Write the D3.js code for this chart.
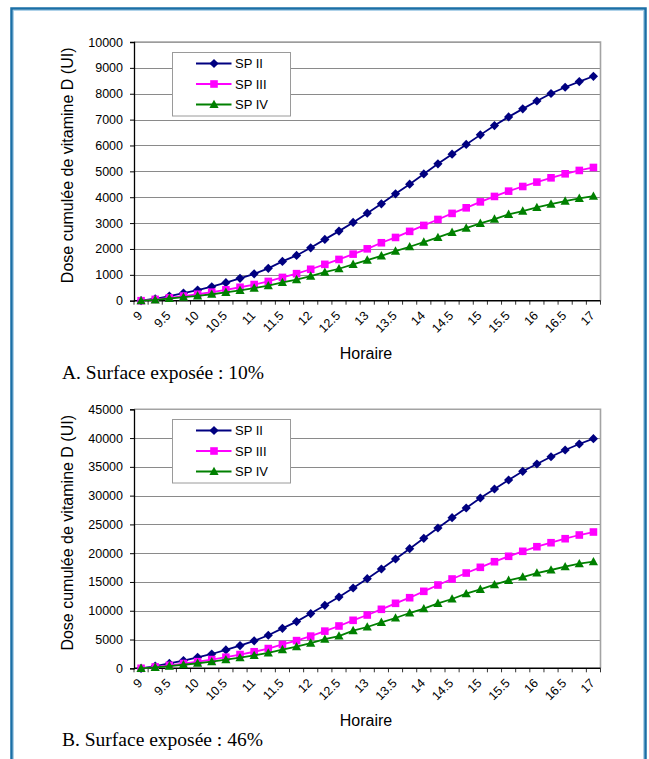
<!DOCTYPE html>
<html>
<head>
<meta charset="utf-8">
<script src="https://cdn.jsdelivr.net/npm/d3@7"></script>
<style>
  body { margin: 0; background: #fff; }
  svg { display: block; }
</style>
</head>
<body>
<svg id="fig" width="649" height="759"></svg>
<script>
// heures (every quarter hour)
const hours = ["9", "9.25", "9.5", "9.75", "10", "10.25", "10.5", "10.75", "11", "11.25", "11.5", "11.75",
  "12", "12.25", "12.5", "12.75", "13", "13.25", "13.5", "13.75", "14", "14.25", "14.5", "14.75",
  "15", "15.25", "15.5", "15.75", "16", "16.25", "16.5", "16.75", "17"];
const seriesNames = ["SP II", "SP III", "SP IV"];

// A. Surface exposée : 10%
const spII_A  = [0, 75, 180, 295, 410, 540, 695, 865, 1040, 1250, 1520, 1750, 2045, 2370, 2690, 3025, 3385,
  3745, 4130, 4505, 4900, 5290, 5665, 6040, 6410, 6770, 7105, 7415, 7720, 8010, 8250, 8470, 8675];
const spIII_A = [0, 50, 110, 180, 250, 330, 420, 520, 625, 745, 900, 1045, 1215, 1405, 1595, 1800, 2005,
  2240, 2445, 2680, 2910, 3140, 3375, 3590, 3820, 4030, 4235, 4415, 4585, 4750, 4905, 5035, 5150];
const spIV_A  = [0, 35, 85, 135, 190, 250, 325, 400, 485, 580, 705, 815, 950, 1100, 1235, 1405, 1570,
  1735, 1920, 2085, 2265, 2445, 2640, 2805, 2990, 3155, 3335, 3465, 3605, 3735, 3850, 3955, 4040];
const yTicks_A = [0, 1000, 2000, 3000, 4000, 5000, 6000, 7000, 8000, 9000, 10000];

// B. Surface exposée : 46%
const spII_B  = [0, 380, 850, 1340, 1900, 2485, 3190, 3950, 4770, 5740, 6940, 8110, 9510, 10950, 12385,
  13950, 15565, 17250, 18990, 20780, 22585, 24375, 26165, 27850, 29585, 31150, 32715, 34225, 35495,
  36760, 37925, 38970, 39900];
const spIII_B = [0, 230, 505, 830, 1150, 1520, 1930, 2390, 2875, 3430, 4140, 4810, 5590, 6460, 7350,
  8340, 9260, 10250, 11290, 12265, 13375, 14470, 15515, 16555, 17545, 18520, 19460, 20325, 21125,
  21820, 22515, 23160, 23680];
const spIV_B  = [0, 160, 390, 620, 875, 1150, 1495, 1840, 2230, 2670, 3240, 3750, 4370, 5060, 5610,
  6540, 7175, 7990, 8740, 9605, 10355, 11295, 12040, 12960, 13725, 14525, 15290, 15860, 16555,
  17080, 17650, 18170, 18520];
const yTicks_B = [0, 5000, 10000, 15000, 20000, 25000, 30000, 35000, 40000, 45000];

const colors = ["#000080", "#ff00ff", "#008000"];
const shapes = [
  "M0,-4.6L4.6,0L0,4.6L-4.6,0Z",          // diamond
  "M-3.8,-3.8H3.8V3.8H-3.8Z",              // square
  "M0,-4.8L4.6,3.6L-4.6,3.6Z"              // triangle
];

const svg = d3.select("#fig");

// outer frame
svg.append("rect")
  .attr("x", 11.5).attr("y", 8.5).attr("width", 634).attr("height", 800)
  .attr("fill", "none").attr("stroke", "#1a6fa6").attr("stroke-width", 2.5);
svg.append("rect")
  .attr("x", 13.5).attr("y", 10.5).attr("width", 630).attr("height", 800)
  .attr("fill", "none").attr("stroke", "#9cc8e4").attr("stroke-width", 0.8);

function drawChart(cfg) {
  const left = 134, right = 600.5;
  const x = d3.scaleBand().domain(hours).range([left, right]).paddingInner(0).paddingOuter(0);
  const y = d3.scaleLinear().domain([0, d3.max(cfg.ticks)]).range([cfg.bottom, cfg.top]);
  const g = svg.append("g");

  // gridlines
  g.append("g")
    .selectAll("line")
    .data(cfg.ticks.slice(1))
    .join("line")
    .attr("x1", left).attr("x2", right)
    .attr("y1", d => Math.round(y(d)) + 0.5).attr("y2", d => Math.round(y(d)) + 0.5)
    .attr("stroke", "#8a8a8a").attr("stroke-width", 1);

  // plot frame (top / right)
  g.append("path")
    .attr("d", `M${left},${cfg.top}H${right}V${cfg.bottom}`)
    .attr("fill", "none").attr("stroke", "#a3a3a3").attr("stroke-width", 1.6);

  // y axis
  const yAxis = g.append("g")
    .attr("transform", `translate(${left},0)`)
    .call(d3.axisLeft(y).tickValues(cfg.ticks).tickSize(4).tickPadding(7).tickFormat(d3.format("d")));
  yAxis.select(".domain").attr("stroke", "#000").attr("stroke-width", 1.3);
  yAxis.selectAll(".tick line").attr("stroke", "#000");
  yAxis.selectAll("text")
    .attr("font-family", "Liberation Sans, Arial, sans-serif")
    .attr("font-size", 12.5).attr("fill", "#000");

  // x axis: tick marks between categories, labels every other category
  const xAxis = g.append("g").attr("transform", `translate(0,${cfg.bottom})`);
  xAxis.append("line")
    .attr("x1", left).attr("x2", right)
    .attr("stroke", "#000").attr("stroke-width", 1.5);
  xAxis.selectAll("line.tk")
    .data(hours.concat([null]))
    .join("line")
    .attr("class", "tk")
    .attr("x1", (d, i) => left + i * x.step()).attr("x2", (d, i) => left + i * x.step())
    .attr("y1", 0).attr("y2", 4)
    .attr("stroke", "#000").attr("stroke-width", 0.8);
  xAxis.selectAll("text")
    .data(hours.filter((d, i) => i % 2 === 0))
    .join("text")
    .attr("transform", d => `translate(${x(d) + x.bandwidth() / 2 - 1},12.5) rotate(-45)`)
    .attr("text-anchor", "end")
    .attr("dy", "0.35em")
    .attr("font-family", "Liberation Sans, Arial, sans-serif")
    .attr("font-size", 12.5)
    .text(d => d);

  // series
  const line = d3.line()
    .x((d, i) => x(hours[i]) + x.bandwidth() / 2)
    .y(d => y(d));
  cfg.series.forEach((vals, s) => {
    g.append("path")
      .datum(vals)
      .attr("d", line)
      .attr("fill", "none")
      .attr("stroke", colors[s])
      .attr("stroke-width", 1.8);
    g.append("g")
      .selectAll("path")
      .data(vals)
      .join("path")
      .attr("transform", (d, i) => `translate(${x(hours[i]) + x.bandwidth() / 2},${y(d)})`)
      .attr("d", shapes[s])
      .attr("fill", colors[s]);
  });

  // axis titles
  g.append("text")
    .attr("transform", `translate(67,${(cfg.top + cfg.bottom) / 2 - 6}) rotate(-90)`)
    .attr("text-anchor", "middle")
    .attr("dy", "0.35em")
    .attr("font-family", "Liberation Sans, Arial, sans-serif")
    .attr("font-size", 16)
    .text("Dose cumulée de vitamine D (UI)");
  g.append("text")
    .attr("x", 366).attr("y", cfg.bottom + 58)
    .attr("text-anchor", "middle")
    .attr("font-family", "Liberation Sans, Arial, sans-serif")
    .attr("font-size", 16)
    .text("Horaire");

  // caption
  g.append("text")
    .attr("x", 62).attr("y", cfg.bottom + 78)
    .attr("font-family", "Liberation Serif, Times New Roman, serif")
    .attr("font-size", 19.5)
    .text(cfg.caption);

  // legend
  const lg = g.append("g").attr("transform", `translate(172.5,${cfg.legendTop})`);
  lg.append("rect")
    .attr("width", 118).attr("height", 63.5)
    .attr("fill", "#fff").attr("stroke", "#9a9a9a").attr("stroke-width", 1);
  seriesNames.forEach((name, s) => {
    const row = lg.append("g").attr("transform", `translate(0,${11 + s * 20.5})`);
    row.append("line")
      .attr("x1", 23.5).attr("x2", 59)
      .attr("stroke", colors[s]).attr("stroke-width", 1.8);
    row.append("path")
      .attr("transform", "translate(41.5,0)")
      .attr("d", shapes[s]).attr("fill", colors[s]);
    row.append("text")
      .attr("x", 62.5).attr("dy", "0.36em")
      .attr("font-family", "Liberation Sans, Arial, sans-serif")
      .attr("font-size", 13)
      .text(name);
  });
}

drawChart({
  top: 42, bottom: 300.7, ticks: yTicks_A,
  series: [spII_A, spIII_A, spIV_A],
  caption: "A. Surface exposée : 10%", legendTop: 52.5
});
drawChart({
  top: 409.3, bottom: 668.3, ticks: yTicks_B,
  series: [spII_B, spIII_B, spIV_B],
  caption: "B. Surface exposée : 46%", legendTop: 419.5
});
</script>
</body>
</html>
